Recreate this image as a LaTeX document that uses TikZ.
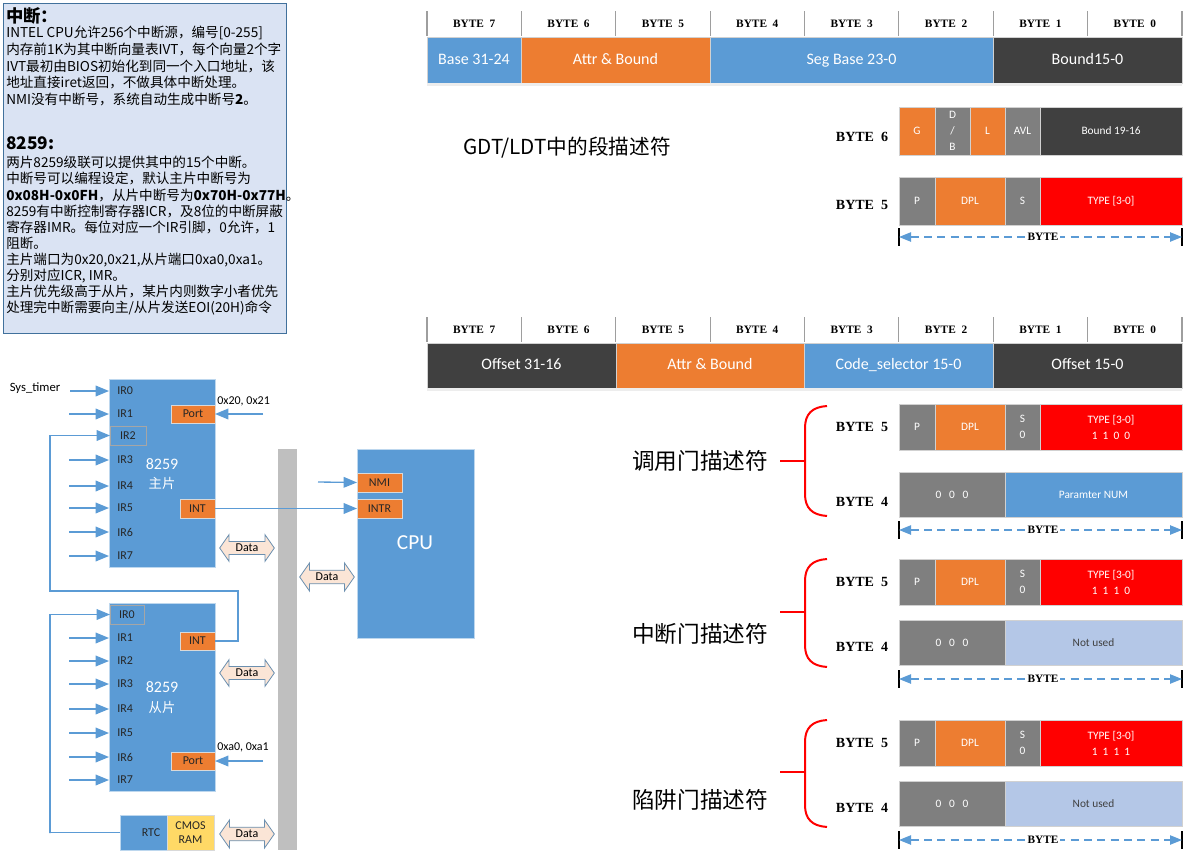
\documentclass[tikz,border=0pt]{standalone}
\usepackage{fontspec}
\setmainfont{Liberation Serif}
\newfontfamily\calfont{Carlito}
\newfontfamily\cjk{Noto Sans CJK SC}
\usetikzlibrary{arrows.meta,shapes.arrows}
\definecolor{cblue}{HTML}{5B9BD5}
\definecolor{corange}{HTML}{ED7D31}
\definecolor{cdark}{HTML}{404040}
\definecolor{cgray}{HTML}{7F7F7F}
\definecolor{cred}{HTML}{FF0000}
\definecolor{clblue}{HTML}{B4C7E7}
\definecolor{cyellow}{HTML}{FFD966}
\definecolor{cpeach}{HTML}{FBE5D6}
\definecolor{cbox}{HTML}{DAE3F3}
\definecolor{cboxb}{HTML}{41719C}
\definecolor{cbus}{HTML}{BFBFBF}
\newcommand{\mycell}[7]{\node[cellsty,#1,minimum width={(#5-#3)*0.75pt},minimum height={(#6-#4)*0.75pt}] (#2) at ({(#3+#5)/2},{(#4+#6)/2}) {#7};}
\newcommand{\byterule}[2]{%
  \coordinate (#1L) at (899,#2); \coordinate (#1R) at (1182,#2);
  \draw[tickln] (899,#2-9) -- (899,#2+9);
  \draw[tickln] (1182,#2-9) -- (1182,#2+9);
  \draw[dimarr] (#1L) -- (#1R);
  \node[dimlbl] (#1T) at (1043,#2) {BYTE};
}
\newcommand{\gbrace}[4]{%
  \coordinate (#1t) at (827,#2); \coordinate (#1b) at (827,#3);
  \coordinate (#1m) at (805,#4); \coordinate (#1p) at (780,#4);
  \draw[bracesty] (#1t) .. controls (812,#2+1) and (805,#2+8) .. (805,#2+22) -- (805,#3-22) .. controls (805,#3-8) and (812,#3-1) .. (#1b);
  \draw[bracesty] (#1p) -- (#1m);
}
\newcommand{\gatefive}[4]{%
  \mycell{fill=cgray,bit}{#1P}{899}{#2}{935}{#3}{P}
  \mycell{fill=corange,bit}{#1D}{935}{#2}{1005}{#3}{DPL}
  \mycell{fill=cgray,bit}{#1S}{1005}{#2}{1040}{#3}{S\\0}
  \mycell{fill=cred,bit}{#1T}{1040}{#2}{1182}{#3}{TYPE [3-0]\\#4}
}
\begin{document}
\begin{tikzpicture}[x=0.75pt,y=-0.75pt,
  cellsty/.style={rectangle,inner sep=0pt,outer sep=0pt,align=center,text=white,draw=white!82!black,line width=0.5pt},
  hdr/.style={fill=white,draw=none,text=black,font=\bfseries\fontsize{8.5}{10}\selectfont},
  hdrline/.style={draw=black!38,line width=0.8pt},
  barf/.style={font=\calfont\fontsize{12}{14}\selectfont,text height=8.5pt,text depth=2.5pt},
  bit/.style={font=\calfont\fontsize{8.5}{12}\selectfont},
  bytelbl/.style={font=\bfseries\fontsize{10.5}{12}\selectfont,inner sep=0pt},
  arr/.style={draw=cblue,line width=1pt,-{Triangle[length=10pt,width=8pt]}},
  dimarr/.style={draw=cblue,line width=1pt,dash pattern=on 6pt off 4pt,{Triangle[length=9pt,width=7pt]}-{Triangle[length=9pt,width=7pt]}},
  tickln/.style={draw=black,line width=1.2pt},
  dimlbl/.style={fill=white,inner sep=1pt,font=\bfseries\fontsize{8.5}{10}\selectfont},
  bracesty/.style={draw=cred,line width=1.5pt},
  gatelbl/.style={font=\cjk\fontsize{17}{19}\selectfont},
  irl/.style={anchor=west,font=\calfont\fontsize{9}{10}\selectfont,text=black!85,inner sep=0pt},
  orbox/.style={fill=corange,draw=white!70!gray,text=black!85,font=\calfont\fontsize{9}{10}\selectfont},
  chip/.style={fill=cblue,draw=white!60!cblue,line width=0.6pt},
  chiptxt/.style={text=white,font=\calfont\fontsize{12}{14}\selectfont},
  plain/.style={font=\calfont\fontsize{9}{10}\selectfont,text=black},
  shade/.style={fill=black!7,draw=none},
  dataarr/.style={double arrow,double arrow head extend=5pt,double arrow tip angle=110,minimum height=41pt,minimum width=20pt,inner sep=1.5pt,fill=cpeach,draw=cblue!55!gray,line width=0.6pt,font=\calfont\fontsize{9}{10}\selectfont,text=black}
]
\useasboundingbox (0,0) rectangle (1189,860);

% ---------- text box ----------
\node[draw=cboxb,fill=cbox,line width=0.8pt,minimum width={283*0.75pt},minimum height={330*0.75pt},anchor=north west,inner sep=0pt] (tb) at (3,3) {};
\node[anchor=west,inner sep=0pt,font=\cjk\bfseries\fontsize{13}{14}\selectfont] (h1) at (6,16) {中断：};
\node[anchor=north west,inner sep=0pt,align=left,font=\cjk\fontsize{10.2}{12.5}\selectfont] (p1) at (6,26) {%
INTEL CPU允许256个中断源，编号[0-255]\\
内存前1K为其中断向量表IVT，每个向量2个字\\
IVT最初由BIOS初始化到同一个入口地址，该\\
地址直接iret返回，不做具体中断处理。\\
NMI没有中断号，系统自动生成中断号{\bfseries 2}。};
\node[anchor=west,inner sep=0pt,font=\cjk\bfseries\fontsize{13}{14}\selectfont] (h2) at (6,143) {8259:};
\node[anchor=north west,inner sep=0pt,align=left,font=\cjk\fontsize{10.2}{12.1}\selectfont] (p2) at (6,156) {%
两片8259级联可以提供其中的15个中断。\\
中断号可以编程设定，默认主片中断号为\\
{\bfseries 0x08H-0x0FH}，从片中断号为{\bfseries 0x70H-0x77H}。\\
8259有中断控制寄存器ICR，及8位的中断屏蔽\\
寄存器IMR。每位对应一个IR引脚，0允许，1\\
阻断。\\
主片端口为0x20,0x21,从片端口0xa0,0xa1。\\
分别对应ICR, IMR。\\
主片优先级高于从片，某片内则数字小者优先\\
处理完中断需要向主/从片发送EOI(20H)命令};

% ---------- header rows ----------
\foreach \t/\ya/\yb in {A/10/37,B/316/343}{
  \foreach \k in {0,...,7}{
    \pgfmathsetmacro\xa{427+94.375*\k}
    \pgfmathsetmacro\xb{427+94.375*(\k+1)}
    \pgfmathtruncatemacro\bn{7-\k}
    \mycell{hdr}{h\t\bn}{\xa}{\ya}{\xb}{\yb}{BYTE\ \ \bn}
  }
  \foreach \k in {0,...,8}{\draw[hdrline] ({427+94.375*\k},\ya+1) -- ({427+94.375*\k},\yb-1);}
}
% segment descriptor bar
\mycell{fill=cblue,barf}{gBase}{427}{37}{521}{83}{Base 31-24}
\mycell{fill=corange,barf}{gAttr}{521}{37}{710}{83}{Attr \& Bound}
\mycell{fill=cblue,barf}{gSeg}{710}{37}{993}{83}{Seg Base 23-0}
\mycell{fill=cdark,barf}{gBnd}{993}{37}{1182}{83}{Bound15-0}
\fill[shade] (gBase.south west) rectangle ([yshift=-2pt]gBnd.south east);
% gate descriptor bar
\mycell{fill=cdark,barf}{oHi}{427}{343}{616}{388}{Offset 31-16}
\mycell{fill=corange,barf}{oAttr}{616}{343}{804}{388}{Attr \& Bound}
\mycell{fill=cblue,barf}{oSel}{804}{343}{993}{388}{Code\_selector 15-0}
\mycell{fill=cdark,barf}{oLo}{993}{343}{1182}{388}{Offset 15-0}
\fill[shade] (oHi.south west) rectangle ([yshift=-2pt]oLo.south east);

% ---------- GDT/LDT ----------
\node[font=\cjk\fontsize{15.5}{18}\selectfont] (gdtT) at (567,148) {GDT/LDT中的段描述符};
\node[bytelbl] (gL6) at (862,137) {BYTE\ \ 6};
\mycell{fill=corange,bit}{gG}{899}{107}{935}{155}{G}
\mycell{fill=cgray,bit}{gDB}{935}{107}{970}{155}{D\\/\\B}
\mycell{fill=corange,bit}{gLb}{970}{107}{1005}{155}{L}
\mycell{fill=cgray,bit}{gAVL}{1005}{107}{1040}{155}{AVL}
\mycell{fill=cdark,bit}{gB19}{1040}{107}{1182}{155}{Bound 19-16}
\node[bytelbl] (gL5) at (862,205) {BYTE\ \ 5};
\mycell{fill=cgray,bit}{gP}{899}{177}{935}{225}{P}
\mycell{fill=corange,bit}{gDPL}{935}{177}{1005}{225}{DPL}
\mycell{fill=cgray,bit}{gS}{1005}{177}{1040}{225}{S}
\mycell{fill=cred,bit}{gT}{1040}{177}{1182}{225}{TYPE [3-0]}
\byterule{gR}{237}

% ---------- call gate ----------
\node[gatelbl] (cgT) at (700,461) {调用门描述符};
\gbrace{cgB}{406}{516}{461}
\node[bytelbl] (cL5) at (862,427) {BYTE\ \ 5};
\gatefive{c5}{404}{450}{1\ \ 1\ \ 0\ \ 0}
\node[bytelbl] (cL4) at (862,502) {BYTE\ \ 4};
\mycell{fill=cgray,bit}{c4Z}{899}{472}{1005}{517}{0\ \ \ 0\ \ \ 0}
\mycell{fill=cblue,bit}{c4N}{1005}{472}{1182}{517}{Paramter NUM}
\byterule{cR}{530}

% ---------- interrupt gate ----------
\node[gatelbl] (igT) at (700,634) {中断门描述符};
\gbrace{igB}{559}{667}{612}
\node[bytelbl] (iL5) at (862,582) {BYTE\ \ 5};
\gatefive{i5}{559}{605}{1\ \ 1\ \ 1\ \ 0}
\node[bytelbl] (iL4) at (862,647) {BYTE\ \ 4};
\mycell{fill=cgray,bit}{i4Z}{899}{620}{1005}{665}{0\ \ \ 0\ \ \ 0}
\mycell{fill=clblue,bit,text=cdark}{i4N}{1005}{620}{1182}{665}{Not used}
\byterule{iR}{679}

% ---------- trap gate ----------
\node[gatelbl] (tgT) at (700,800) {陷阱门描述符};
\gbrace{tgB}{720}{827}{772}
\node[bytelbl] (tL5) at (862,743) {BYTE\ \ 5};
\gatefive{t5}{720}{766}{1\ \ 1\ \ 1\ \ 1}
\node[bytelbl] (tL4) at (862,808) {BYTE\ \ 4};
\mycell{fill=cgray,bit}{t4Z}{899}{781}{1005}{826}{0\ \ \ 0\ \ \ 0}
\mycell{fill=clblue,bit,text=cdark}{t4N}{1005}{781}{1182}{826}{Not used}
\byterule{tR}{840}

% ---------- bus ----------
\mycell{fill=cbus,draw=none}{bus}{278}{449}{297}{850}{}

% ---------- master 8259 ----------
\mycell{chip}{M}{109}{379}{215}{567}{}
\node[chiptxt] (mT1) at (162,464) {8259};
\node[text=white,font=\cjk\fontsize{10}{12}\selectfont] (mT2) at (162,483) {主片};
\mycell{fill=cblue,draw=black!35,text=black!85,font=\calfont\fontsize{9}{10}\selectfont}{mir2}{110}{426}{146}{445}{IR2}
\foreach \i/\y in {0/391,1/414,3/460,4/486,5/508,6/532,7/556}{
  \node[irl] (mir\i) at (117,\y) {IR\i};
}
\foreach \i/\y in {1/414,3/460,4/486,5/508,6/532,7/556}{
  \coordinate (min\i) at (69,\y);
  \draw[arr] (min\i) -- (M.west |- min\i);
}
\node[plain,font=\calfont\fontsize{9.5}{10}\selectfont,inner sep=2pt] (st) at (35,388) {Sys\_timer};
\coordinate (stc) at (70,391);
\draw[arr] (stc) -- (M.west |- stc);
\mycell{orbox}{mport}{171}{405}{215}{423}{Port}
\node[plain,anchor=west,inner sep=0pt] (mpl) at (217,401) {0x20, 0x21};
\coordinate (mpin) at (263,414);
\draw[arr] (mpin) -- (mport.east);
\mycell{orbox}{mint}{180}{499}{215}{518}{INT}
\node[dataarr] (md) at (247,548) {Data};

% ---------- CPU ----------
\mycell{chip}{cpu}{357}{449}{474}{638}{}
\node[text=white,font=\calfont\fontsize{16}{18}\selectfont] (cpuT) at (415,543) {CPU};
\mycell{orbox}{nmi}{357}{473}{402}{492}{NMI}
\mycell{orbox}{intr}{357}{499}{402}{518}{INTR}
\coordinate (nmiin) at (318,482);
\draw[arr] (nmiin) -- (nmi.west);
\draw[arr] (mint.east) -- (intr.west);
\node[dataarr,minimum width=21pt] (cd) at (327,577) {Data};

% ---------- slave 8259 ----------
\mycell{chip}{S}{109}{603}{215}{791}{}
\node[chiptxt] (sT1) at (162,687) {8259};
\node[text=white,font=\cjk\fontsize{10}{12}\selectfont] (sT2) at (162,707) {从片};
\mycell{fill=cblue,draw=black!35,text=black!85,font=\calfont\fontsize{9}{10}\selectfont}{sir0}{110}{605}{144}{624}{IR0}
\foreach \i/\y in {1/638,2/661,3/684,4/709,5/733,6/757,7/780}{
  \node[irl] (sir\i) at (117,\y) {IR\i};
  \coordinate (sin\i) at (69,\y);
  \draw[arr] (sin\i) -- (S.west |- sin\i);
}
\mycell{orbox}{sint}{180}{632}{215}{650}{INT}
\node[dataarr] (sd) at (247,673) {Data};
\mycell{orbox}{sport}{171}{752}{215}{770}{Port}
\node[plain,anchor=west,inner sep=0pt] (spl) at (217,747) {0xa0, 0xa1};
\coordinate (spin) at (263,761);
\draw[arr] (spin) -- (sport.east);

% cascade: slave INT -> master IR2
\coordinate (k1) at (238,591);
\coordinate (k2) at (50,591);
\draw[arr] (sint.east) -| (k1) -| (k2) |- (mir2.west);

% ---------- RTC / CMOS ----------
\mycell{chip}{rtc}{120}{815}{167}{850}{}
\node[plain,text=black!85] (rtcT) at (151,833) {RTC};
\mycell{fill=cyellow,draw=white!70!gray,text=black!85,font=\calfont\fontsize{9}{11}\selectfont}{cmos}{167}{815}{214}{850}{CMOS\\RAM}
\node[dataarr,minimum width=21pt] (rd) at (247,834) {Data};
\coordinate (k3) at (50,833);
\draw[arr] (rtc.west) -| (k3) |- (sir0.west);
\end{tikzpicture}
\end{document}
